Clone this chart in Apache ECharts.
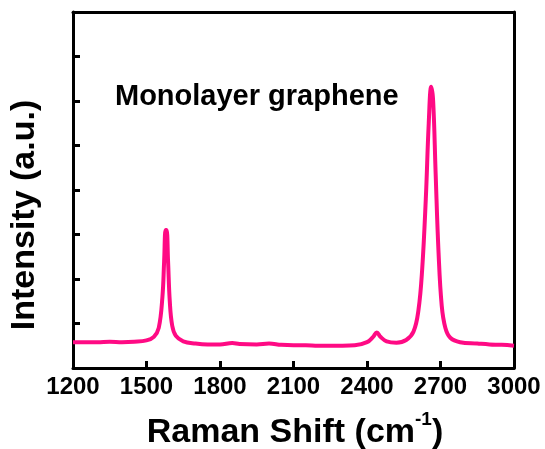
<!DOCTYPE html>
<html><head><meta charset="utf-8">
<script src="https://cdn.jsdelivr.net/npm/echarts@6/dist/echarts.min.js"></script>
<style>html,body{margin:0;padding:0;background:#fff;}#c{width:545px;height:449px;}</style>
</head><body><div id="c"></div>
<script>
const ramanShift = [1200,1250,1300,1350,1400,1450,1500,1530,1550,1565,1572,1578,1582,1588,1595,1605,1620,1650,1700,1750,1800,1850,1880,1950,2000,2050,2100,2150,2200,2250,2300,2350,2400,2425,2440,2455,2480,2520,2560,2590,2610,2625,2640,2652,2662,2670,2680,2692,2705,2720,2740,2780,2850,2900,2950,3000];
const intensity = [0.58,0.58,0.58,0.59,0.58,0.59,0.62,0.70,0.90,1.6,2.4,3.1,3.1,2.4,1.5,0.95,0.72,0.60,0.55,0.53,0.53,0.56,0.54,0.53,0.55,0.52,0.51,0.51,0.50,0.50,0.50,0.51,0.58,0.70,0.80,0.70,0.60,0.57,0.63,0.82,1.3,2.2,3.8,5.5,6.32,6.0,4.4,2.6,1.4,0.9,0.68,0.58,0.55,0.53,0.52,0.50];
const xTicks = [1200,1500,1800,2100,2400,2700,3000];
const labelText = 'Monolayer graphene';
const xTitle = 'Raman Shift (cm';
const yTitle = 'Intensity (a.u.)';

const chart = echarts.init(document.getElementById('c'));
const F = 'Liberation Sans, Arial, sans-serif';
const axisLine = {show:true, onZero:false, lineStyle:{color:'#000', width:3}};
chart.setOption({
  animation:false,
  backgroundColor:'#fff',
  grid:{left:73, right:31, top:12, bottom:81},
  xAxis:[{
    type:'value', min:1200, max:3000, interval:300,
    axisLine:axisLine,
    axisTick:{show:true, inside:true, length:7, lineStyle:{color:'#000', width:3}},
    axisLabel:{color:'#000', fontSize:24, fontWeight:'bold', fontFamily:F, margin:7,
      formatter:v=>xTicks.includes(v)?String(v):''},
    splitLine:{show:false}
  },{
    type:'value', position:'top', min:1200, max:3000,
    axisLine:axisLine, axisTick:{show:false}, axisLabel:{show:false}, splitLine:{show:false}
  }],
  yAxis:[{
    type:'value', min:0, max:8, interval:1,
    axisLine:axisLine,
    axisTick:{show:true, inside:true, length:7, lineStyle:{color:'#000', width:3}},
    axisLabel:{show:false}, splitLine:{show:false}
  },{
    type:'value', position:'right', min:0, max:8,
    axisLine:axisLine, axisTick:{show:false}, axisLabel:{show:false}, splitLine:{show:false}
  }],
  series:[{
    type:'line', smooth:0.4, showSymbol:false,
    data: ramanShift.map((x,i)=>[x, intensity[i]]),
    lineStyle:{color:'#FF0A84', width:4},
    z:1
  }],
  graphic:[
    {type:'text', x:115, y:97, style:{text:labelText, fill:'#000', font:'bold 29px '+F, verticalAlign:'middle'}},
    {type:'text', x:295, y:430, style:{
      text:'{a|'+xTitle+'}{s|-1}{a|)}', fill:'#000', align:'center', verticalAlign:'middle',
      rich:{a:{fontSize:34, fontWeight:'bold', fontFamily:F, verticalAlign:'bottom', lineHeight:40},
            s:{fontSize:19, fontWeight:'bold', fontFamily:F, verticalAlign:'top', lineHeight:40, padding:[0,0,18,0]}}}},
    {type:'text', x:25, y:215, rotation:Math.PI/2, style:{
      text:yTitle, fill:'#000', font:'bold 34px '+F, align:'center', verticalAlign:'middle'}}
  ]
});
</script></body></html>
